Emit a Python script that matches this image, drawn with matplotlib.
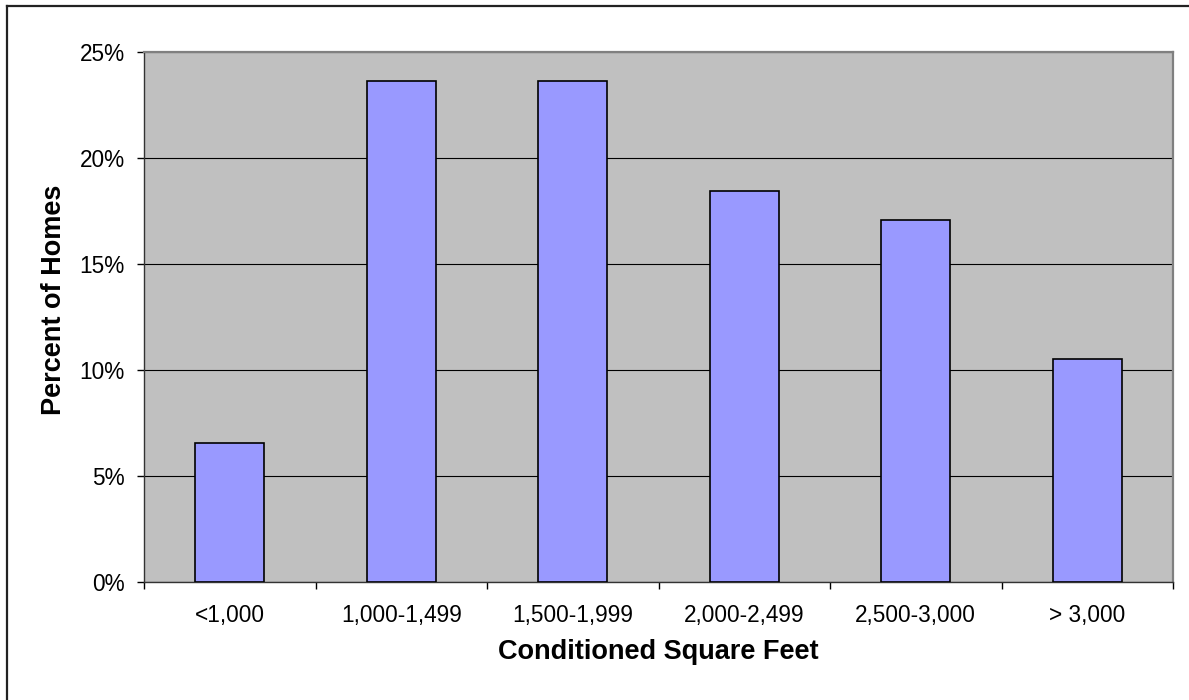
import matplotlib
matplotlib.use("Agg")
import matplotlib.pyplot as plt
from matplotlib.lines import Line2D
from matplotlib.ticker import FuncFormatter, MultipleLocator
import numpy as np

plt.rcParams['font.family'] = ['Liberation Sans', 'DejaVu Sans']

categories = ["<1,000", "1,000-1,499", "1,500-1,999", "2,000-2,499", "2,500-3,000", "> 3,000"]
percent_homes = [6.56, 23.63, 23.63, 18.43, 17.08, 10.52]

W, H = 1189, 700
fig = plt.figure(figsize=(W / 100, H / 100), dpi=100)
ax = fig.add_axes([144 / W, 1 - 582 / H, (1173 - 144) / W, (582 - 52) / H])

ax.set_facecolor("#C0C0C0")
x = np.arange(len(categories))
ax.bar(x, percent_homes, width=0.4, color="#9999FF", edgecolor="black", linewidth=1.2, zorder=3)

ax.set_xlim(-0.5, len(categories) - 0.5)
ax.set_ylim(0, 25)
ax.yaxis.set_major_locator(MultipleLocator(5))
ax.yaxis.set_major_formatter(FuncFormatter(lambda v, p: "%d%%" % v))
ax.grid(axis="y", color="black", linewidth=0.8, zorder=1)

# category labels centered, ticks on category boundaries
ax.set_xticks(x)
ax.set_xticklabels(categories)
ax.set_xticks(np.arange(len(categories) + 1) - 0.5, minor=True)
ax.tick_params(axis="x", which="major", length=0, pad=16, labelsize=16.3)
ax.tick_params(axis="x", which="minor", length=5, width=1, direction="out", color="black")
ax.tick_params(axis="y", length=5, width=1, direction="out", pad=9, labelsize=16.3, color="black")

for s in ["left", "bottom"]:
    ax.spines[s].set_color("#333333")
    ax.spines[s].set_linewidth(1)
for s in ["top", "right"]:
    ax.spines[s].set_color("#808080")
    ax.spines[s].set_linewidth(1.6)

fig.text(658 / W, 1 - 652 / H, "Conditioned Square Feet", ha="center", va="center",
         fontsize=19.5, fontweight="bold")
fig.text(54 / W, 1 - 300 / H, "Percent of Homes", ha="center", va="center",
         rotation=90, fontsize=19.5, fontweight="bold")

# chart area border (left and top visible)
fig.add_artist(Line2D([7 / W, 7 / W], [0, 1 - 6 / H], color="#222222", linewidth=1.6, transform=fig.transFigure))
fig.add_artist(Line2D([7 / W, 1], [1 - 6 / H, 1 - 6 / H], color="#222222", linewidth=1.6, transform=fig.transFigure))

fig.savefig("out.png", dpi=100)
